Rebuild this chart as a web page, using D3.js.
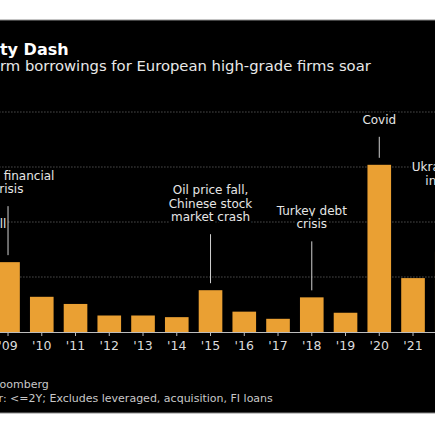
<!DOCTYPE html>
<html>
<head>
<meta charset="utf-8">
<script src="https://cdn.jsdelivr.net/npm/d3@7"></script>
<style>
  body { margin: 0; background: #fff; }
  svg { display: block; }
  text { font-family: "DejaVu Sans", "Liberation Sans", sans-serif; }
</style>
</head>
<body>
<svg id="chart" width="435" height="435"></svg>
<script>
// short-term borrowings by year (grid every 10)
const slots = ['08', '09', '10', '11', '12', '13', '14', '15', '16', '17', '18', '19', '20', '21', '22']
const years = ['09', '10', '11', '12', '13', '14', '15', '16', '17', '18', '19', '20', '21', '22']
const borrowings = [12.7, 6.4, 5.1, 3.0, 3.0, 2.7, 7.6, 3.7, 2.4, 6.3, 3.5, 30.4, 9.8, 14.6]
const gridTicks = [10, 20, 30, 40]

const notes = [
  { year: '08', lines: ['Lehman fall'] },
  { year: '09', lines: ['Global financial', 'crisis'] },
  { year: '15', lines: ['Oil price fall,', 'Chinese stock', 'market crash'] },
  { year: '18', lines: ['Turkey debt', 'crisis'] },
  { year: '20', lines: ['Covid'] },
  { year: '22', lines: ['Ukraine war,', 'inflation'] }
]

const title = 'Liquidity Dash'
const subtitle = 'Short-term borrowings for European high-grade firms soar'
const source = 'Source: Bloomberg'
const footnote = 'Note: Tenor: <=2Y; Excludes leveraged, acquisition, FI loans'

// layout (the picture is a crop, so the chart starts left of the frame)
const W = 435
const LEFT = -56
const BASE = 332, TOP = 112
const PLOT_X0 = -42.6, STEP = 33.75
const leadLen = { '09': 49, '15': 49, '18': 49, '20': 21, '22': 47 }
const LINE_H = 13.5

const svg = d3.select('#chart')

svg.append('rect')
  .attr('x', -1).attr('y', 20)
  .attr('width', W + 2).attr('height', 393)
  .attr('fill', '#000')
  .attr('stroke', '#8a8a8a')

const x = d3.scaleBand()
  .domain(slots)
  .range([PLOT_X0, PLOT_X0 + STEP * slots.length])
  .paddingInner(0.3)
  .paddingOuter(0.15)

const y = d3.scaleLinear()
  .domain([0, 40])
  .range([BASE, TOP])

const cx = (yr) => x(yr) + x.bandwidth() / 2
const valueOf = (yr) => borrowings[years.indexOf(yr)]

// dotted gridlines
svg.append('g')
  .selectAll('line.grid')
  .data(gridTicks)
  .enter().append('line')
  .attr('class', 'grid')
  .attr('x1', PLOT_X0).attr('x2', W + 40)
  .attr('y1', (d) => y(d)).attr('y2', (d) => y(d))
  .attr('stroke', '#767676')
  .attr('stroke-width', 1)
  .attr('stroke-dasharray', '1,2')

// bars
svg.append('g')
  .selectAll('rect.bar')
  .data(years)
  .enter().append('rect')
  .attr('class', 'bar')
  .attr('x', (d) => x(d))
  .attr('width', x.bandwidth())
  .attr('y', (d, i) => y(borrowings[i]))
  .attr('height', (d, i) => BASE - y(borrowings[i]))
  .attr('fill', '#eaa033')

// x axis
const xAxis = svg.append('g')
  .attr('transform', `translate(0,${BASE})`)
  .call(d3.axisBottom(x).tickSize(4).tickPadding(5).tickFormat((d) => `'${d}`))
xAxis.select('.domain').attr('stroke', '#bdbdbd')
xAxis.selectAll('.tick line').attr('stroke', '#bdbdbd')
xAxis.selectAll('.tick text')
  .attr('fill', '#dcdcdc')
  .style('font-size', '12.5px')

// annotations
const noteG = svg.append('g')
notes.forEach((n) => {
  const v = valueOf(n.year)
  let lastBase
  if (v === undefined) {
    lastBase = 228
  } else {
    const bottom = y(v) - 7
    const top = bottom - leadLen[n.year]
    lastBase = top - 13
    noteG.append('line')
      .attr('class', 'lead')
      .attr('x1', cx(n.year)).attr('x2', cx(n.year))
      .attr('y1', top).attr('y2', bottom)
      .attr('stroke', '#d0d0d0')
      .attr('stroke-width', 1)
  }
  const firstBase = lastBase - LINE_H * (n.lines.length - 1)
  noteG.append('text')
    .attr('text-anchor', 'middle')
    .attr('fill', '#e6e6e6')
    .attr('stroke', '#000')
    .attr('stroke-width', 4)
    .attr('paint-order', 'stroke')
    .style('font-size', '12px')
    .selectAll('tspan')
    .data(n.lines)
    .enter().append('tspan')
    .attr('x', (n.year === '22') ? cx(n.year) + 3 : (n.year === '08') ? cx(n.year) - 3 : cx(n.year))
    .attr('y', (d, i) => firstBase + i * LINE_H)
    .text((d) => d)
})
noteG.selectAll('line.lead').raise()

// titles
svg.append('text')
  .attr('x', LEFT - 5).attr('y', 55)
  .attr('fill', '#fff')
  .style('font-size', '16px')
  .style('font-weight', 'bold')
  .text(title)

svg.append('text')
  .attr('x', LEFT - 4).attr('y', 71)
  .attr('fill', '#e8e8e8')
  .style('font-size', '14.8px')
  .text(subtitle)

svg.append('text')
  .attr('x', LEFT).attr('y', 388)
  .attr('fill', '#c8c8c8')
  .style('font-size', '11px')
  .text(source)

svg.append('text')
  .attr('x', LEFT - 4).attr('y', 402)
  .attr('fill', '#c8c8c8')
  .style('font-size', '11px')
  .text(footnote)
</script>
</body>
</html>
